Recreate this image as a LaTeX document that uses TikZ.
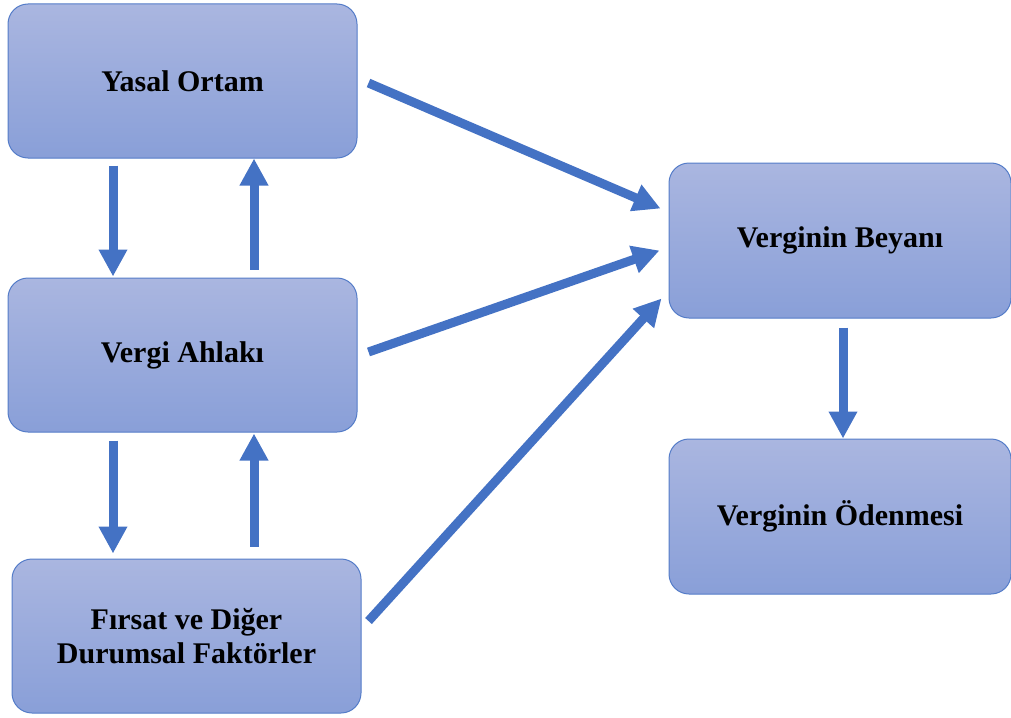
\documentclass[tikz,border=0pt]{standalone}
\usepackage{fontspec}
\setmainfont{Liberation Serif}
\usetikzlibrary{arrows.meta}

\definecolor{boxtop}{RGB}{170,182,224}
\definecolor{boxbot}{RGB}{137,159,216}
\definecolor{boxline}{RGB}{84,124,200}
\definecolor{arrowblue}{RGB}{68,114,196}

\begin{document}
\begin{tikzpicture}[x=1pt,y=-1pt]

    \tikzstyle{every node}=[font=\fontsize{30}{34}\selectfont\bfseries]
    \tikzstyle{box}=[rectangle, rounded corners=20pt, draw=boxline, line width=1pt,
                     top color=boxtop, bottom color=boxbot,
                     minimum width=349pt, minimum height=154pt, align=center]
    \tikzstyle{flow}=[draw=arrowblue, line width=9pt,
                      -{Triangle[width=27pt,length=27pt]}]
    \def\lx{69.5}
    \def\rx{71.5}

    \useasboundingbox (0,0) rectangle (1011,717);

    \node[box] (yasal)  at (182.5,81)  {Yasal Ortam};
    \node[box] (ahlak)  at (182.5,355) {Vergi Ahlakı};
    \node[box] (firsat) at (186.5,636) {Fırsat ve Diğer\\Durumsal Faktörler};
    \node[box, minimum width=342pt, minimum height=155pt] (beyan) at (840,240.5) {Verginin Beyanı};
    \node[box, minimum width=342pt, minimum height=155pt] (odeme) at (840,516.5) {Verginin Ödenmesi};

    % left column, up and down
    \draw[flow] ([shift={(-\lx,7)}]yasal.south) -- ([shift={(-\lx,-1)}]ahlak.north);
    \draw[flow] ([shift={(\rx,-8)}]ahlak.north) -- ([shift={(\rx,0)}]yasal.south);
    \draw[flow] ([shift={(-\lx,8)}]ahlak.south) -- ([shift={(-73.5,-5)}]firsat.north);
    \draw[flow] ([shift={(67.5,-12)}]firsat.north) -- ([shift={(\rx,1)}]ahlak.south);

    % into the declaration
    \draw[flow] ([shift={(11,2)}]yasal.east)   -- ([shift={(-8,-32)}]beyan.west);
    \draw[flow] ([shift={(11,-3)}]ahlak.east)  -- ([shift={(-9,10)}]beyan.west);
    \draw[flow] ([shift={(7,-15)}]firsat.east) -- ([shift={(-7,58)}]beyan.west);

    \draw[flow] ([shift={(3,9)}]beyan.south) -- ([shift={(3,0)}]odeme.north);
\end{tikzpicture}
\end{document}
